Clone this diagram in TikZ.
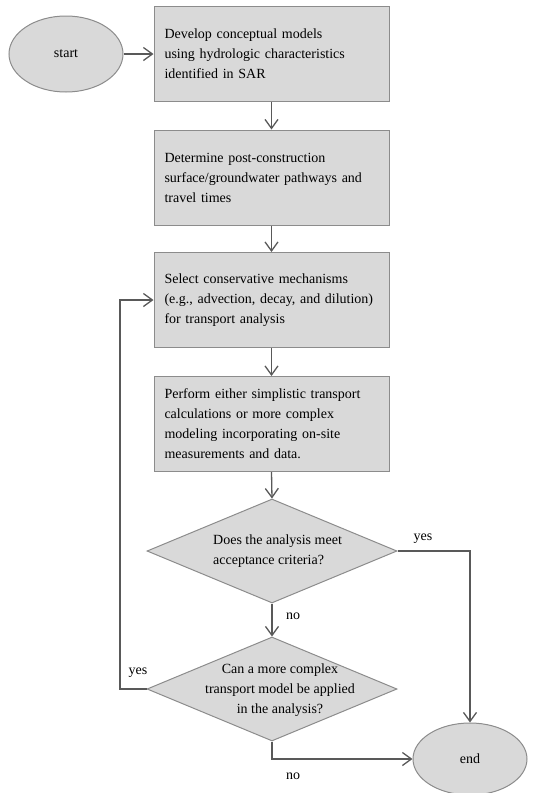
\documentclass[tikz,border=0pt]{standalone}
\usepackage{fontspec}
\setmainfont{Liberation Serif}
\usetikzlibrary{shapes.geometric,arrows.meta}
\definecolor{boxfill}{HTML}{D9D9D9}
\definecolor{boxline}{HTML}{8C8C8C}
\definecolor{arrowcol}{HTML}{595959}
\tikzset{
  every node/.style={font=\fontsize{14}{20}\selectfont},
  stepbox/.style={draw=boxline, fill=boxfill, line width=1pt, rectangle,
    minimum width=235pt, minimum height=95pt, text width=214pt, inner xsep=10.5pt,
    align=left},
  terminal/.style={draw=boxline, fill=boxfill, line width=1pt, ellipse,
    minimum width=114pt, minimum height=76pt, inner sep=0pt},
  decision/.style={draw=boxline, fill=boxfill, line width=1pt, diamond,
    minimum width=250pt, minimum height=104pt, inner sep=0pt},
  flow/.style={draw=arrowcol, line width=1.3pt, -{Straight Barb[length=9pt,width=13pt,line width=1.3pt]}},
  lbl/.style={inner sep=0pt}
}
\begin{document}
\begin{tikzpicture}[x=1pt,y=-1pt]
\useasboundingbox (0,0) rectangle (547,793);
\node[terminal] (start) at (66,54) {start};
\node[stepbox] (b1) at (271.5,53.5) {Develop conceptual models\\using hydrologic characteristics\\identified in SAR};
\node[stepbox] (b2) at (271.5,177.5) {Determine post-construction\\surface/groundwater pathways and\\travel times};
\node[stepbox] (b3) at (271.5,300) {Select conservative mechanisms\\(e.g., advection, decay, and dilution)\\for transport analysis};
\node[stepbox] (b4) at (271.5,424) {Perform either simplistic transport\\calculations or more complex\\modeling incorporating on-site\\measurements and data.};
\node[decision] (d1) at (272,551) {};
\node[lbl, anchor=west, align=left] (t1) at (213,551) {Does the analysis meet\\acceptance criteria?};
\node[decision] (d2) at (272,689) {};
\node[lbl, align=center] (t2) at (280,690) {Can a more complex\\transport model be applied\\in the analysis?};
\node[terminal, minimum height=72pt] (end) at (470,759) {end};
\coordinate (lp) at (120,689);
\node[lbl] (y1) at (423,539) {yes};
\node[lbl] (n1) at (293,616) {no};
\node[lbl] (y2) at (138,673) {yes};
\node[lbl] (n2) at (293,776) {no};
\draw[flow] (start.east) -- (start.east -| b1.west);
\draw[flow] (b1.south) -- (b2.north);
\draw[flow] (b2.south) -- (b3.north);
\draw[flow] (b3.south) -- (b4.north);
\draw[flow] (b4.south) -- (d1.north);
\draw[flow] (d1.east) -| (end.north);
\draw[flow] (d1.south) -- (d2.north);
\draw[flow] (d2.west) -- (lp) |- (b3.west);
\draw[flow] (d2.south) |- (end.west);
\end{tikzpicture}
\end{document}
